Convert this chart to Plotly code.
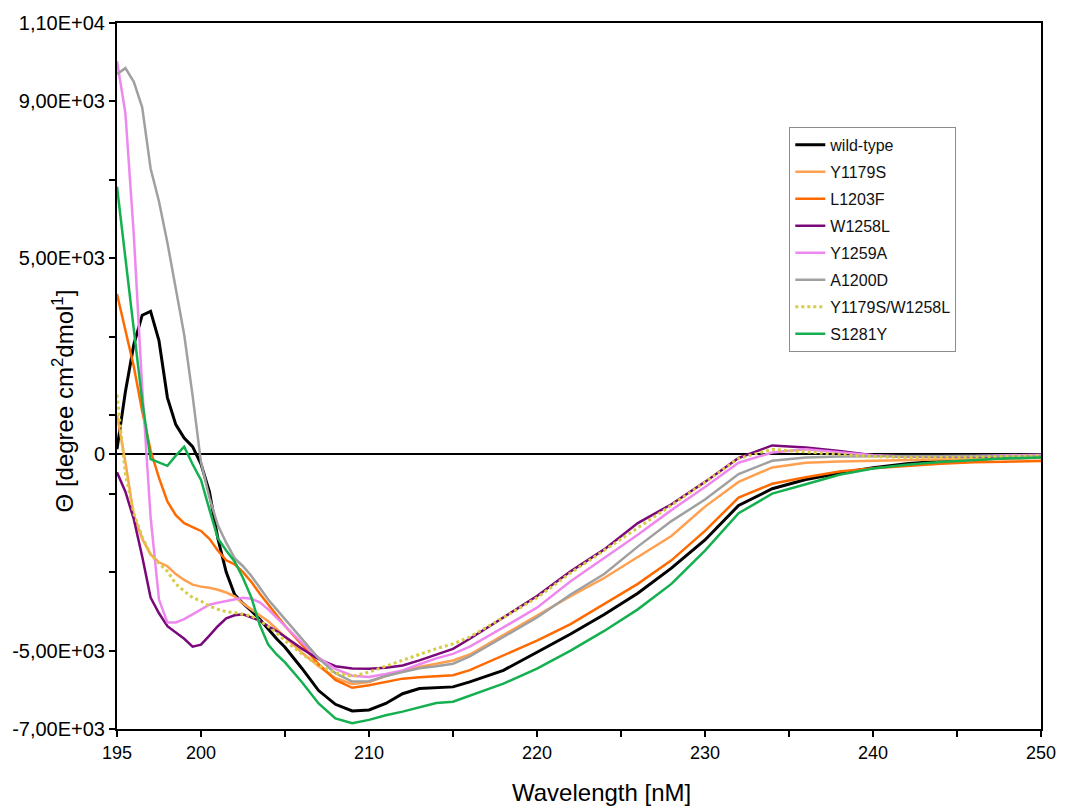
import plotly.graph_objects as go

# Wavelength grid (nm)
wavelength = [195, 195.5, 196, 196.5, 197, 197.5, 198, 198.5, 199, 199.5,
              200, 200.5, 201, 201.5, 202, 202.5, 203, 203.5, 204, 204.5, 205,
              206, 207, 208, 209, 210, 211, 212, 213, 214, 215, 216,
              218, 220, 222, 224, 226, 228, 230, 232, 234, 236, 238, 240,
              242, 244, 246, 248, 250]

# Mean residue ellipticity per protein variant
wild_type = [135, 1600, 2800, 3550, 3650, 2900, 1450, 760, 420, 200,
             -244, -950, -2138, -3000, -3569, -3800, -3990, -4200, -4450, -4700, -4916,
             -5450, -6020, -6370, -6540, -6515, -6350, -6100, -5968, -5950, -5926, -5800,
             -5505, -5042, -4579, -4080, -3540, -2900, -2180, -1300, -875, -640, -480, -340,
             -240, -170, -120, -90, -70]
y1179s = [1000, -200, -1550, -2150, -2550, -2750, -2850, -3050, -3200, -3320,
          -3370, -3400, -3450, -3520, -3620, -3800, -3950, -4100, -4250, -4450, -4650,
          -5050, -5400, -5700, -5850, -5800, -5650, -5520, -5420, -5330, -5252, -5100,
          -4600, -4116, -3611, -3150, -2620, -2080, -1330, -700, -330, -210, -180, -160,
          -150, -130, -110, -100, -90]
l1203f = [4090, 3150, 2240, 1100, 100, -600, -1200, -1550, -1750, -1850,
          -1950, -2150, -2450, -2700, -2800, -3000, -3250, -3550, -3820, -4100, -4370,
          -4850, -5350, -5750, -5950, -5884, -5800, -5716, -5680, -5650, -5631, -5500,
          -5126, -4747, -4327, -3820, -3300, -2700, -1950, -1100, -749, -581, -437, -350,
          -290, -240, -200, -180, -170]
w1258l = [-454, -950, -1650, -2600, -3650, -4050, -4380, -4550, -4700, -4900,
          -4850, -4620, -4380, -4180, -4100, -4074, -4150, -4240, -4380, -4500, -4650,
          -4950, -5220, -5400, -5460, -5463, -5440, -5379, -5250, -5100, -4958, -4700,
          -4158, -3611, -2980, -2420, -1750, -1270, -700, -90, 230, 180, 90, -20,
          -60, -60, -50, -40, -40]
y1259a = [10025, 8700, 5600, 1700, -1600, -3700, -4285, -4285, -4200, -4080,
          -3950, -3830, -3780, -3740, -3700, -3654, -3680, -3770, -3950, -4158, -4370,
          -4800, -5180, -5470, -5640, -5674, -5600, -5505, -5350, -5200, -5084, -4900,
          -4411, -3906, -3232, -2650, -2050, -1420, -830, -210, 50, 130, 60, -20,
          -50, -50, -40, -20, -10]
a1200d = [9697, 9850, 9500, 8850, 7290, 6450, 5400, 4200, 3050, 1500,
          -200, -1100, -1800, -2250, -2643, -2850, -3100, -3400, -3700, -3950, -4200,
          -4700, -5200, -5580, -5790, -5780, -5650, -5547, -5450, -5400, -5337, -5150,
          -4663, -4158, -3569, -3050, -2350, -1700, -1150, -500, -160, -76, -50, -40,
          -40, -40, -40, -40, -40]
y1179s_w1258l = [1523, -500, -1500, -2100, -2550, -2780, -2980, -3300, -3485, -3650,
                 -3737, -3870, -3947, -4010, -4032, -4074, -4116, -4242, -4380, -4550, -4750,
                 -5080, -5380, -5570, -5660, -5547, -5400, -5252, -5100, -4950, -4831, -4650,
                 -4158, -3654, -3022, -2450, -1880, -1296, -707, -100, 130, 60, 0, -50,
                 -80, -80, -70, -50, -40]
s1281y = [6826, 5000, 3190, 1370, -120, -200, -290, -30, 200, -250,
          -650, -1400, -2138, -2450, -2727, -3150, -3650, -4350, -4850, -5100, -5300,
          -5800, -6350, -6730, -6852, -6768, -6650, -6557, -6450, -6340, -6305, -6150,
          -5842, -5463, -5000, -4500, -3950, -3300, -2450, -1500, -1000, -760, -520, -360,
          -260, -190, -140, -100, -80]

series_names = ["wild-type", "Y1179S", "L1203F", "W1258L", "Y1259A", "A1200D",
                "Y1179S/W1258L", "S1281Y"]
series_values = [wild_type, y1179s, l1203f, w1258l, y1259a, a1200d, y1179s_w1258l, s1281y]
series_colors = ["#000000", "#FFA050", "#FF6A00", "#7A087A", "#EE88EE", "#A0A0A0",
                 "#D8CC45", "#14B050"]
series_widths = [3, 2.5, 2.5, 2.5, 2.5, 2.5, 3, 2.5]
series_dash = ["solid"] * 6 + ["dot", "solid"]

for vals in series_values:
    assert len(vals) == len(wavelength)

# Labelled ticks; unlabelled ticks are drawn as minor ticks
y_tickvals = [-7000, -5000, 0, 5000, 9000, 11000]
y_ticktext = ["-7,00E+03", "-5,00E+03", "0", "5,00E+03", "9,00E+03", "1,10E+04"]
y_minor_vals = [-3000, -1000, 1000, 3000, 7000]
x_tickvals = [195, 200, 210, 220, 230, 240, 250]
x_ticktext = ["195", "200", "210", "220", "230", "240", "250"]
x_minor_vals = [205, 215, 225, 235, 245]

FONT = "Liberation Sans, Arial, sans-serif"

fig = go.Figure()
for name, vals, color, width, dash in zip(series_names, series_values, series_colors,
                                          series_widths, series_dash):
    fig.add_trace(go.Scatter(
        x=wavelength, y=vals, mode="lines", name=name, legendgroup=name,
        line=dict(color=color, width=width, dash=dash),
    ))

fig.update_layout(
    width=1068, height=812, autosize=False,
    margin=dict(l=116, r=27, t=16, b=83),
    paper_bgcolor="white", plot_bgcolor="white",
    font=dict(family=FONT, color="#000000"),
    showlegend=True,
    legend=dict(
        x=0.7276, y=0.853, xanchor="left", yanchor="top",
        bgcolor="white", bordercolor="#8c8c8c", borderwidth=1,
        font=dict(family=FONT, size=16, color="#111111"),
        tracegroupgap=3.2,
    ),
    xaxis=dict(
        range=[195, 250], showgrid=False, zeroline=False,
        showline=True, linecolor="#000000", linewidth=2, mirror=True,
        ticks="outside", ticklen=6, tickwidth=1.5, tickcolor="#000000",
        tickmode="array", tickvals=x_tickvals, ticktext=x_ticktext,
        tickfont=dict(family=FONT, size=18, color="#000000"),
        minor=dict(tickmode="array", tickvals=x_minor_vals, ticks="outside",
                   ticklen=6, tickwidth=1.5, tickcolor="#000000", showgrid=False),
    ),
    yaxis=dict(
        range=[-7000, 11000], showgrid=False,
        zeroline=True, zerolinecolor="#000000", zerolinewidth=2,
        showline=True, linecolor="#000000", linewidth=2, mirror=True,
        ticks="outside", ticklen=6, tickwidth=1.5, tickcolor="#000000",
        tickmode="array", tickvals=y_tickvals, ticktext=y_ticktext,
        tickfont=dict(family=FONT, size=20, color="#000000"),
        minor=dict(tickmode="array", tickvals=y_minor_vals, ticks="outside",
                   ticklen=6, tickwidth=1.5, tickcolor="#000000", showgrid=False),
    ),
    annotations=[
        dict(text="Wavelength [nM]", xref="paper", yref="paper",
             x=0.524, y=-0.0898, xanchor="center", yanchor="middle",
             showarrow=False, font=dict(family=FONT, size=24, color="#000000")),
        dict(text="\u0398 [degree cm<sup>2</sup>dmol<sup>1</sup>]", xref="paper", yref="paper",
             x=-0.0584, y=0.464, xanchor="center", yanchor="middle", textangle=-90,
             showarrow=False, font=dict(family=FONT, size=24, color="#000000")),
    ],
)

fig.write_html("out.html")
